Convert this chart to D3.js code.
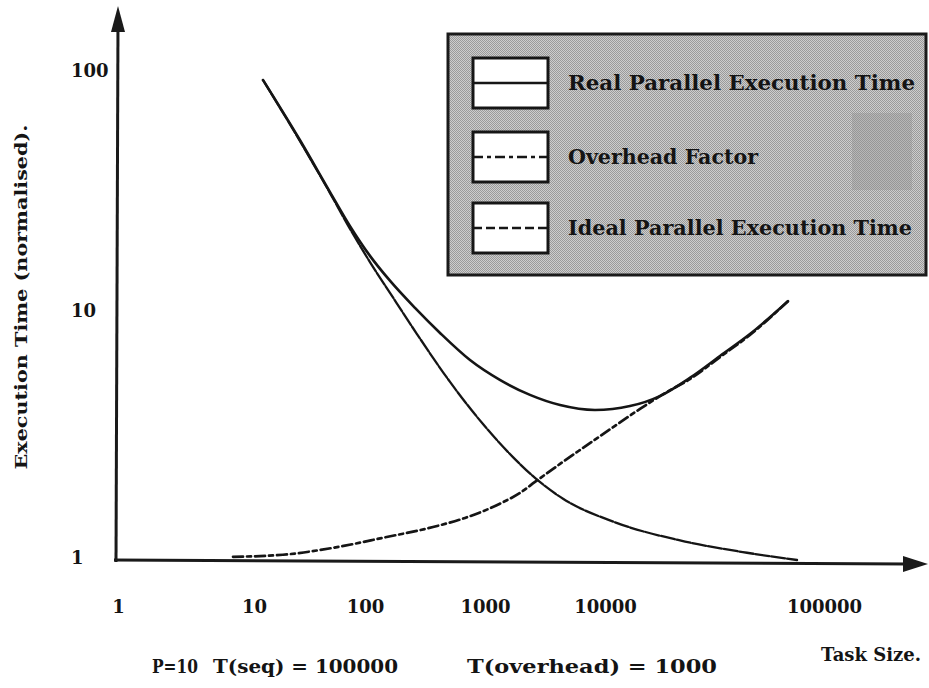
<!DOCTYPE html>
<html>
<head>
<meta charset="utf-8">
<script src="https://cdn.jsdelivr.net/npm/d3@7/dist/d3.min.js"></script>
<style>
  html, body { margin: 0; padding: 0; background: #fff; }
  svg { display: block; }
  text { font-family: "DejaVu Serif", "Liberation Serif", serif; font-weight: bold; fill: #141414; }
</style>
</head>
<body>
<svg id="chart" width="929" height="688"></svg>
<script>
'use strict';

/* ── Data ── */
const xTicks = [1, 10, 100, 1000, 10000, 100000];
const yTicks = [1, 10, 100];

const realSize = [12.05, 25.9, 48.4, 73.3, 110, 162, 261, 422, 750, 1330, 2370, 4220, 8250, 13000, 17800, 24400, 33500, 45900, 68500];
const realTime = [93.5, 52.6, 31.9, 23.0, 17.3, 13.6, 10.5, 8.30, 6.45, 5.36, 4.66, 4.24, 4.05, 4.20, 4.61, 5.46, 6.70, 8.22, 11.2];

const overheadSize = [7.01, 18.2, 51.5, 141, 369, 708, 1330, 1960, 2610, 4220, 6190, 10900, 14450, 18800, 24400, 33500, 45900, 68500];
const overheadTime = [1.03, 1.05, 1.12, 1.23, 1.36, 1.49, 1.69, 1.87, 2.07, 2.45, 2.79, 3.45, 4.09, 4.74, 5.40, 6.63, 8.15, 11.2];

const idealSize = [12.05, 25.9, 48.4, 73.3, 110, 162, 271, 511, 962, 1710, 2610, 4470, 10900, 22000, 44500, 75300];
const idealTime = [93.5, 52.1, 31.6, 22.4, 16.3, 12.1, 8.22, 5.26, 3.55, 2.61, 2.15, 1.77, 1.43, 1.20, 1.07, 1.0];

const legendLabels = ['Real Parallel Execution Time', 'Overhead Factor', 'Ideal Parallel Execution Time'];

/* ── Scales (the figure's decades are not evenly spaced) ── */
const svg = d3.select('#chart');
const x = d3.scaleLog().domain(xTicks).range([118, 254, 365, 485, 605, 824]);
const y = d3.scaleLog().domain(yTicks).range([560, 313, 73]);

/* ── Legend fill pattern (dithered grey) ── */
const defs = svg.append('defs');
const pat = defs.append('pattern')
  .attr('id', 'dither').attr('width', 2).attr('height', 2)
  .attr('patternUnits', 'userSpaceOnUse');
pat.append('rect').attr('width', 2).attr('height', 2).attr('fill', '#cdcdcd');
pat.append('rect').attr('width', 1).attr('height', 1).attr('fill', '#9a9a9a');
pat.append('rect').attr('x', 1).attr('y', 1).attr('width', 1).attr('height', 1).attr('fill', '#9a9a9a');

/* ── Axes lines with arrows ── */
const axisCol = '#1a1a1a';
svg.append('line')
  .attr('x1', 116).attr('y1', 562).attr('x2', 118).attr('y2', 22)
  .attr('stroke', axisCol).attr('stroke-width', 3);
svg.append('path')
  .attr('d', 'M118,6 L111,32 L125,32 Z').attr('fill', axisCol);
svg.append('line')
  .attr('x1', 114).attr('y1', 560).attr('x2', 908).attr('y2', 564)
  .attr('stroke', axisCol).attr('stroke-width', 3);
svg.append('path')
  .attr('d', 'M928,564 L903,556 L903,572 Z').attr('fill', axisCol);

/* ── Tick labels ── */
const tickFont = sel => sel
  .style('font-family', '"DejaVu Serif", serif')
  .style('font-weight', 'bold')
  .style('font-size', '18px')
  .attr('fill', '#141414');

const xAxis = svg.append('g')
  .attr('transform', 'translate(0,604)')
  .call(d3.axisBottom(x).tickValues(xTicks).tickSize(0).tickFormat(d3.format('d')));
xAxis.select('.domain').remove();
xAxis.selectAll('text').attr('dy', '0.35em').call(tickFont);

const yAxis = svg.append('g')
  .attr('transform', 'translate(71,0)')
  .call(d3.axisLeft(y).tickValues(yTicks).tickSize(0).tickFormat(d3.format('d')));
yAxis.select('.domain').remove();
yAxis.selectAll('text')
  .attr('x', 0)
  .attr('dy', '0.2em')
  .attr('text-anchor', 'start')
  .call(tickFont);

/* ── Curves ── */
const line = d3.line()
  .x(d => x(d[0]))
  .y(d => y(d[1]))
  .curve(d3.curveMonotoneX);

const series = [
  { pts: d3.zip(idealSize, idealTime), dash: '14,2', w: 2.3 },
  { pts: d3.zip(overheadSize, overheadTime), dash: '10,4,4,4', w: 2.7 },
  { pts: d3.zip(realSize, realTime), dash: null, w: 2.6 },
];
series.forEach(s => {
  svg.append('path')
    .datum(s.pts)
    .attr('d', line)
    .attr('fill', 'none')
    .attr('stroke', '#151515')
    .attr('stroke-width', s.w)
    .attr('stroke-linecap', 'round')
    .attr('stroke-dasharray', s.dash);
});

/* ── Legend ── */
const leg = svg.append('g');
leg.append('rect')
  .attr('x', 448).attr('y', 34).attr('width', 478).attr('height', 241)
  .attr('fill', 'url(#dither)')
  .attr('stroke', '#1a1a1a').attr('stroke-width', 3);
// scan smudge in the original legend
leg.append('rect')
  .attr('x', 852).attr('y', 113).attr('width', 60).attr('height', 77)
  .attr('fill', '#8f8f8f').attr('opacity', 0.35);

const legDash = [null, '10,4,4,4', '9,4'];
const legRowY = [83, 157, 228];
const legTextLen = [347, 190, 344];
legendLabels.forEach((lbl, i) => {
  const cy = legRowY[i];
  leg.append('rect')
    .attr('x', 473).attr('y', cy - 25).attr('width', 75).attr('height', 50)
    .attr('fill', '#fff').attr('stroke', '#161616').attr('stroke-width', 3);
  leg.append('line')
    .attr('x1', 473).attr('x2', 548).attr('y1', cy).attr('y2', cy)
    .attr('stroke', '#161616').attr('stroke-width', 2.6)
    .attr('stroke-dasharray', legDash[i]);
  leg.append('text')
    .attr('x', 568).attr('y', cy + 7)
    .attr('textLength', legTextLen[i])
    .attr('lengthAdjust', 'spacingAndGlyphs')
    .style('font-size', '20px')
    .text(lbl);
});

/* ── Titles / annotations ── */
svg.append('text')
  .attr('transform', 'translate(27,297) rotate(-90)')
  .attr('text-anchor', 'middle')
  .attr('textLength', 345)
  .attr('lengthAdjust', 'spacingAndGlyphs')
  .style('font-size', '16px')
  .text('Execution Time (normalised).');

svg.append('text')
  .attr('x', 921).attr('y', 661)
  .attr('text-anchor', 'end')
  .style('font-size', '18px')
  .text('Task Size.');

const notes = [['P=10', 152, 46], ['T(seq) = 100000', 213, 185], ['T(overhead) = 1000', 467, 250]];
notes.forEach(([t, px, len]) => {
  svg.append('text')
    .attr('x', px).attr('y', 673)
    .attr('textLength', len)
    .attr('lengthAdjust', 'spacingAndGlyphs')
    .style('font-size', '18px')
    .text(t);
});
</script>
</body>
</html>
